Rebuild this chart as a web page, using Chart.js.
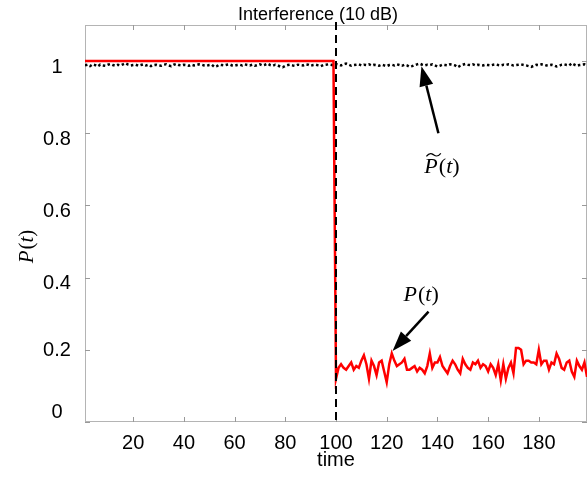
<!DOCTYPE html>
<html>
<head>
<meta charset="utf-8">
<script src="https://cdn.jsdelivr.net/npm/chart.js@4"></script>
<style>
  html, body { margin: 0; padding: 0; background: #fff; }
  #wrap { width: 588px; height: 479px; }
</style>
</head>
<body>
<div id="wrap"><canvas id="chart"></canvas></div>
<script>
// P~(t): estimated probability, t = 1..199
const estStart = 1;
const estValues = [
  0.988,0.99,0.986,0.991,0.989,0.985,0.99,0.988,0.987,0.99,0.992,0.989,0.987,0.99,0.988,0.991,0.994,0.99,0.988,0.989,
  0.99,0.987,0.989,0.991,0.988,0.99,0.986,0.989,0.99,0.988,0.987,0.99,0.991,0.988,0.986,0.99,0.992,0.989,0.988,0.99,
  0.989,0.987,0.99,0.988,0.989,0.991,0.99,0.988,0.987,0.989,0.99,0.984,0.986,0.99,0.989,0.988,0.99,0.991,0.988,0.987,
  0.989,0.99,0.988,0.991,0.989,0.988,0.99,0.987,0.989,0.991,0.988,0.99,0.993,0.989,0.987,0.99,0.988,0.985,0.983,0.987,
  0.989,0.99,0.988,0.987,0.99,0.989,0.988,0.991,0.99,0.987,0.989,0.99,0.988,0.986,0.989,0.99,0.991,0.99,0.988,0.992,
  0.99,0.988,0.991,0.993,0.99,0.987,0.989,0.99,0.991,0.988,0.99,0.989,0.991,0.988,0.99,0.989,0.987,0.99,0.988,0.986,
  0.989,0.99,0.988,0.991,0.989,0.987,0.99,0.988,0.984,0.986,0.989,0.991,0.993,0.99,0.988,0.99,0.989,0.991,0.988,0.985,
  0.987,0.99,0.989,0.988,0.991,0.99,0.988,0.983,0.987,0.99,0.992,0.99,0.989,0.991,0.988,0.99,0.989,0.988,0.99,0.989,
  0.988,0.99,0.991,0.989,0.988,0.99,0.989,0.991,0.99,0.988,0.989,0.99,0.991,0.989,0.988,0.986,0.984,0.987,0.99,0.989,
  0.991,0.99,0.988,0.989,0.99,0.988,0.985,0.987,0.99,0.991,0.989,0.988,0.994,0.99,0.987,0.989,0.99,0.991,0.988
];

// P(t): flat at 1 before the interference, then noisy from t = 100
const preTimes = [1, 99];
const preValues = [1.0, 1.0];
const postStart = 100;
const postValues = [
  0.12,0.15,0.16,0.15,0.145,0.155,0.165,0.145,0.155,0.15,
  0.17,0.185,0.16,0.12,0.17,0.155,0.13,0.165,0.17,0.14,
  0.11,0.16,0.19,0.17,0.155,0.16,0.165,0.175,0.145,0.145,
  0.15,0.155,0.14,0.15,0.145,0.135,0.155,0.19,0.15,0.165,
  0.165,0.18,0.155,0.145,0.135,0.155,0.17,0.16,0.145,0.135,
  0.175,0.16,0.15,0.145,0.165,0.16,0.17,0.15,0.16,0.155,
  0.14,0.16,0.15,0.13,0.16,0.115,0.16,0.12,0.15,0.165,
  0.135,0.205,0.205,0.2,0.16,0.17,0.17,0.165,0.165,0.16,
  0.2,0.16,0.17,0.17,0.145,0.165,0.16,0.19,0.175,0.15,
  0.145,0.165,0.17,0.14,0.125,0.17,0.155,0.145,0.165,0.125
];

const xTicks = [20, 40, 60, 80, 100, 120, 140, 160, 180];
const yTicks = [0, 0.2, 0.4, 0.6, 0.8, 1];
const yLabelNudge = [-10, 1, 6, 6, 6, 6];
const eventTime = 100;

const estData = estValues.map((v, i) => ({ x: estStart + i, y: v }));
const realData = preTimes.map((t, i) => ({ x: t, y: preValues[i] }))
  .concat(postValues.map((v, i) => ({ x: postStart + i, y: v })));

const serif = '"Liberation Serif", "Times New Roman", serif';
const sans = '"Liberation Sans", Arial, sans-serif';

function arrow(ctx, x1, y1, x2, y2) {
  const ang = Math.atan2(y2 - y1, x2 - x1);
  const len = 20, half = 7;
  const bx = x2 - len * Math.cos(ang), by = y2 - len * Math.sin(ang);
  ctx.beginPath();
  ctx.moveTo(x1, y1);
  ctx.lineTo(bx, by);
  ctx.lineWidth = 2.5;
  ctx.strokeStyle = '#000';
  ctx.stroke();
  ctx.beginPath();
  ctx.moveTo(x2, y2);
  ctx.lineTo(bx + half * Math.sin(ang), by - half * Math.cos(ang));
  ctx.lineTo(bx - half * Math.sin(ang), by + half * Math.cos(ang));
  ctx.closePath();
  ctx.fillStyle = '#000';
  ctx.fill();
}

// P(t) with italic P and t, upright parentheses; centred on cx, middle on cy
function mathLabel(ctx, cx, cy, size, tilde) {
  const parts = [['P', 'italic'], ['(', 'normal'], ['t', 'italic'], [')', 'normal']];
  const widths = parts.map(p => { ctx.font = `${p[1]} ${size}px ${serif}`; return ctx.measureText(p[0]).width; });
  const total = widths.reduce((s, w) => s + w, 0);
  let x = cx - total / 2;
  ctx.textAlign = 'left';
  ctx.textBaseline = 'middle';
  parts.forEach((p, i) => {
    ctx.font = `${p[1]} ${size}px ${serif}`;
    ctx.fillText(p[0], x, cy);
    if (i === 0 && tilde) {
      // wide tilde over the P
      const tx = x + 2, tw = widths[0] + 1, ty = cy - size * 0.58;
      ctx.beginPath();
      ctx.moveTo(tx, ty + 1.5);
      ctx.bezierCurveTo(tx + tw * 0.25, ty - 3, tx + tw * 0.4, ty - 1, tx + tw * 0.5, ty);
      ctx.bezierCurveTo(tx + tw * 0.6, ty + 1, tx + tw * 0.75, ty + 3, tx + tw, ty - 1.5);
      ctx.lineWidth = 1.3;
      ctx.strokeStyle = '#000';
      ctx.stroke();
    }
    x += widths[i] + (i === 0 ? 1 : 0);
  });
}

const extras = {
  id: 'extras',
  beforeDatasetsDraw(chart) {
    const { ctx, chartArea: a, scales: { x, y } } = chart;
    ctx.save();
    ctx.strokeStyle = '#b4b4b4';
    ctx.lineWidth = 1;
    ctx.strokeRect(a.left + 0.5, a.top + 0.5, a.right - a.left - 1, a.bottom - a.top - 1);
    ctx.beginPath();
    xTicks.forEach(v => {
      const px = Math.round(x.getPixelForValue(v)) + 0.5;
      ctx.moveTo(px, a.bottom); ctx.lineTo(px, a.bottom - 5);
      ctx.moveTo(px, a.top); ctx.lineTo(px, a.top + 5);
    });
    yTicks.forEach(v => {
      const py = Math.round(y.getPixelForValue(v)) + 0.5;
      ctx.moveTo(a.left, py); ctx.lineTo(a.left + 5, py);
      ctx.moveTo(a.right, py); ctx.lineTo(a.right - 5, py);
    });
    ctx.strokeStyle = '#999';
    ctx.stroke();

    // y tick labels, centred in the axis gutter
    ctx.fillStyle = '#000';
    ctx.font = '20px ' + sans;
    ctx.textAlign = 'center';
    ctx.textBaseline = 'middle';
    yTicks.forEach((v, i) => {
      ctx.fillText(String(v), a.left - 28, y.getPixelForValue(v) + yLabelNudge[i]);
    });
    ctx.restore();
  },
  afterDatasetsDraw(chart) {
    const { ctx, chartArea: a, scales: { x, y } } = chart;
    ctx.save();
    // interference onset
    const ex = x.getPixelForValue(eventTime);
    ctx.beginPath();
    ctx.setLineDash([8, 5]);
    ctx.moveTo(ex, a.top - 3);
    ctx.lineTo(ex, a.bottom);
    ctx.strokeStyle = '#000';
    ctx.lineWidth = 2;
    ctx.stroke();
    ctx.setLineDash([]);

    // title
    ctx.fillStyle = '#000';
    ctx.font = '18px ' + sans;
    ctx.textAlign = 'center';
    ctx.textBaseline = 'middle';
    ctx.fillText('Interference (10 dB)', (a.left + a.right) / 2 - 18, 15);

    // y axis label
    ctx.save();
    ctx.translate(27, 247);
    ctx.rotate(-Math.PI / 2);
    mathLabel(ctx, 0, 0, 21, false);
    ctx.restore();

    // annotations
    arrow(ctx, x.getPixelForValue(140.4), y.getPixelForValue(0.80),
               x.getPixelForValue(133.7), y.getPixelForValue(0.986));
    arrow(ctx, x.getPixelForValue(136.5), y.getPixelForValue(0.306),
               x.getPixelForValue(122.3), y.getPixelForValue(0.197));
    mathLabel(ctx, x.getPixelForValue(141.6), y.getPixelForValue(0.705), 22, true);
    mathLabel(ctx, x.getPixelForValue(133.4), y.getPixelForValue(0.35), 22, false);
    ctx.restore();
  }
};

new Chart(document.getElementById('chart'), {
  type: 'line',
  data: {
    datasets: [
      {
        label: 'P(t)',
        data: realData,
        borderColor: '#ff0000',
        borderWidth: 2.5,
        pointRadius: 0,
        tension: 0,
        order: 0
      },
      {
        label: 'P~(t)',
        data: estData,
        borderColor: '#000',
        borderWidth: 2.5,
        borderDash: [2.5, 2.5],
        pointRadius: 0,
        tension: 0,
        order: 1
      }
    ]
  },
  options: {
    responsive: true,
    maintainAspectRatio: false,
    animation: false,
    layout: { padding: { top: 25, right: 1, left: 0, bottom: 0 } },
    plugins: {
      legend: { display: false },
      tooltip: { enabled: false }
    },
    scales: {
      x: {
        type: 'linear',
        min: 1,
        max: 199,
        afterBuildTicks: s => { s.ticks = xTicks.map(v => ({ value: v })); },
        afterFit: s => { s.height = 57; },
        grid: { display: false, drawTicks: false },
        border: { display: false },
        ticks: {
          color: '#000',
          padding: 9,
          maxRotation: 0,
          font: { size: 20, family: sans }
        },
        title: {
          display: true,
          text: 'time',
          color: '#000',
          padding: { top: 0, bottom: 7 },
          font: { size: 20, family: sans }
        }
      },
      y: {
        min: 0,
        max: 1.1,
        afterBuildTicks: s => { s.ticks = yTicks.map(v => ({ value: v })); },
        afterFit: s => { s.width = 85; },
        grid: { display: false, drawTicks: false },
        border: { display: false },
        ticks: { display: false }
      }
    }
  },
  plugins: [extras]
});
</script>
</body>
</html>
